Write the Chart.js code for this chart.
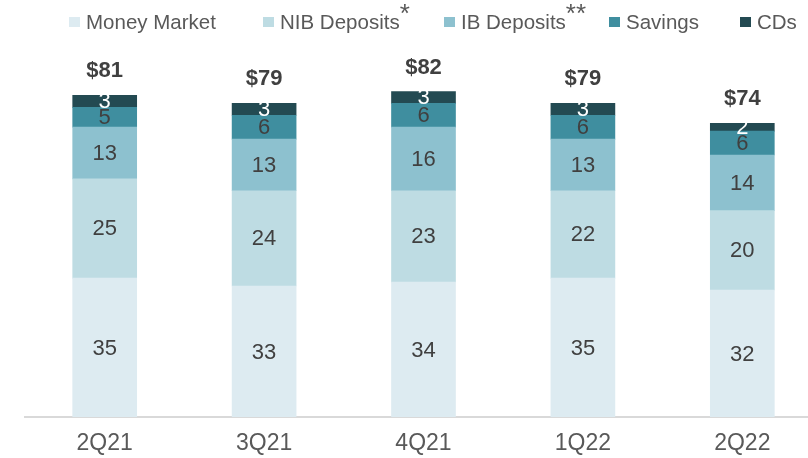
<!DOCTYPE html>
<html>
<head>
<meta charset="utf-8">
<script src="https://cdn.jsdelivr.net/npm/chart.js@4"></script>
<style>
  html, body { margin: 0; padding: 0; background: #ffffff; overflow: hidden; width: 808px; height: 458px; }
  canvas { display: block; }
</style>
</head>
<body>
<canvas id="c" width="822" height="458"></canvas>
<script>
const categories = ['2Q21', '3Q21', '4Q21', '1Q22', '2Q22'];
const seriesNames = ['Money Market', 'NIB Deposits', 'IB Deposits', 'Savings', 'CDs'];
const nameMarks = ['', '*', '**', '', ''];
const moneyMarket = [35, 33, 34, 35, 32];
const nibDeposits = [25, 24, 23, 22, 20];
const ibDeposits = [13, 13, 16, 13, 14];
const savings = [5, 6, 6, 6, 6];
const cds = [3, 3, 3, 3, 2];
const totals = [81, 79, 82, 79, 74];
const totalLabels = ['$81', '$79', '$82', '$79', '$74'];

const colors = ['#DDEBF1', '#BEDCE3', '#8DC1CF', '#3F8E9F', '#234A52'];
const labelColors = ['#404040', '#404040', '#404040', '#404040', '#FFFFFF'];
const FONT = '"Liberation Sans", Arial, sans-serif';

const seriesData = [moneyMarket, nibDeposits, ibDeposits, savings, cds];

const datasets = seriesData.map((d, i) => ({
  label: seriesNames[i],
  data: d,
  backgroundColor: colors[i],
  borderWidth: 0,
  barThickness: 64
}));

const segmentLabels = {
  id: 'segmentLabels',
  afterDatasetsDraw(chart) {
    const ctx = chart.ctx;
    ctx.save();
    ctx.textAlign = 'center';
    ctx.textBaseline = 'middle';
    ctx.font = '22px ' + FONT;
    chart.data.datasets.forEach((ds, di) => {
      const meta = chart.getDatasetMeta(di);
      meta.data.forEach((bar, i) => {
        const yMid = (bar.y + bar.base) / 2;
        ctx.fillStyle = labelColors[di];
        ctx.fillText(String(ds.data[i]), bar.x, yMid + 1);
      });
    });
    // totals
    const yScale = chart.scales.y;
    const xScale = chart.scales.x;
    ctx.font = 'bold 22px ' + FONT;
    ctx.fillStyle = '#404040';
    totals.forEach((t, i) => {
      const x = xScale.getPixelForValue(i);
      const y = yScale.getPixelForValue(t);
      ctx.fillText(totalLabels[i], x, y - 24);
    });
    ctx.restore();
  }
};

const customLegend = {
  id: 'customLegend',
  afterDraw(chart) {
    const ctx = chart.ctx;
    const boxX = [69, 263, 444, 609, 740];
    ctx.save();
    ctx.textAlign = 'left';
    ctx.textBaseline = 'alphabetic';
    seriesNames.forEach((name, i) => {
      ctx.fillStyle = colors[i];
      ctx.fillRect(boxX[i], 17, 11, 10);
      ctx.font = '20.5px ' + FONT;
      ctx.fillStyle = '#595959';
      const tx = boxX[i] + 17;
      ctx.fillText(name, tx, 28.5);
      if (nameMarks[i]) {
        const w = ctx.measureText(name).width;
        ctx.font = '26px ' + FONT;
        ctx.fillText(nameMarks[i], tx + w, 22);
      }
    });
    ctx.restore();
  }
};

new Chart(document.getElementById('c'), {
  type: 'bar',
  data: { labels: categories, datasets: datasets },
  options: {
    responsive: false,
    animation: false,
    devicePixelRatio: 1,
    layout: { padding: { left: 25, top: 20, right: 0, bottom: 0 } },
    plugins: {
      legend: { display: false },
      tooltip: { enabled: false }
    },
    scales: {
      x: {
        stacked: true,
        grid: { display: false, drawTicks: false },
        border: { display: true, color: '#D9D9D9', width: 2 },
        ticks: { color: '#595959', font: { family: FONT, size: 23 }, padding: 13 },
        afterFit(scale) { scale.height = 41; }
      },
      y: {
        stacked: true,
        display: false,
        min: 0,
        max: 100
      }
    }
  },
  plugins: [segmentLabels, customLegend]
});
</script>
</body>
</html>
